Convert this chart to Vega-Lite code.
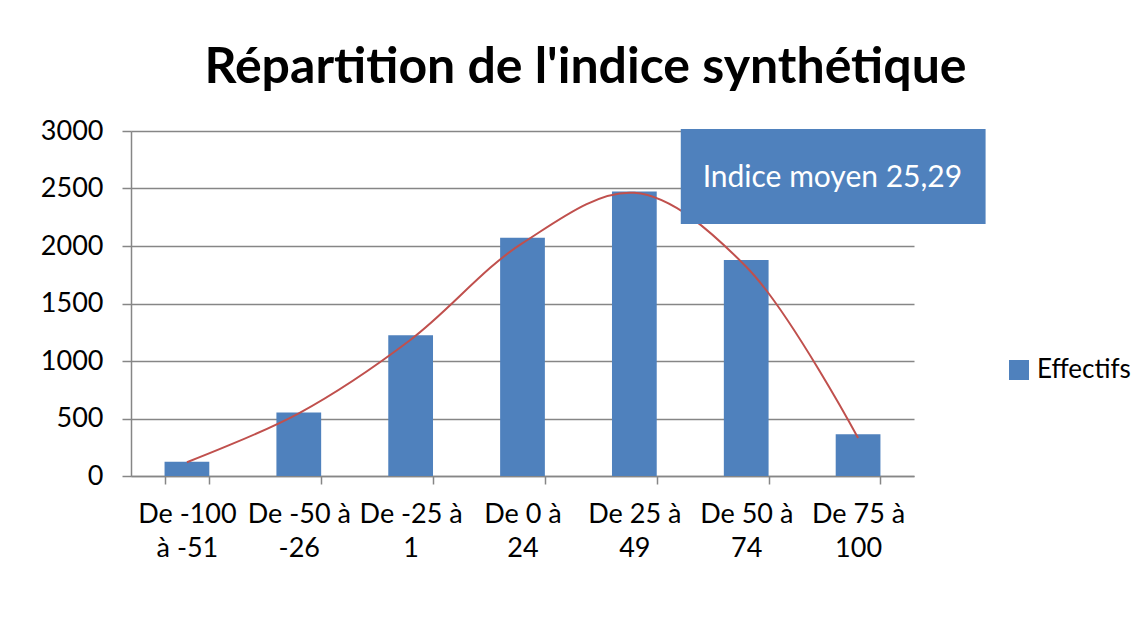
{
  "$schema": "https://vega.github.io/schema/vega-lite/v6.json",
  "autosize": "none",
  "width": 783,
  "height": 345,
  "padding": {"left": 131, "top": 131, "right": 228, "bottom": 158},
  "background": "white",
  "title": {
    "text": "Répartition de l'indice synthétique",
    "font": "Lato",
    "fontSize": 50,
    "fontWeight": "bold",
    "color": "black",
    "anchor": "middle",
    "frame": "group",
    "dx": 63,
    "baseline": "alphabetic",
    "offset": -16
  },
  "config": {
    "view": {"stroke": null},
    "axis": {
      "labelFont": "Lato",
      "labelFontSize": 27,
      "labelColor": "black",
      "domainColor": "#868686",
      "domainWidth": 1.5,
      "tickColor": "#868686",
      "tickWidth": 1.5,
      "gridColor": "#868686",
      "gridWidth": 1.5,
      "title": null
    },
    "legend": {
      "labelFont": "Lato",
      "labelFontSize": 26,
      "labelColor": "black"
    }
  },
  "datasets": {
    "bars": [
      {"classe": "De -100 à -51", "effectifs": 125, "courbe": 120},
      {"classe": "De -50 à -26", "effectifs": 552, "courbe": 545},
      {"classe": "De -25 à 1", "effectifs": 1223, "courbe": 1185},
      {"classe": "De 0 à 24", "effectifs": 2072, "courbe": 2025},
      {"classe": "De 25 à 49", "effectifs": 2475, "courbe": 2462},
      {"classe": "De 50 à 74", "effectifs": 1878, "courbe": 1820},
      {"classe": "De 75 à 100", "effectifs": 362, "courbe": 330}
    ],
    "note": [
      {"x1": 4.915, "x2": 7.64, "y1": 2191, "y2": 3017, "xt": 6.27, "yt": 2591, "texte": "Indice moyen 25,29"}
    ]
  },
  "layer": [
    {
      "data": {"name": "bars"},
      "layer": [
        {
          "mark": {"type": "bar"},
          "encoding": {
            "x": {
              "field": "classe",
              "type": "nominal",
              "sort": null,
              "scale": {"paddingInner": 0.6, "paddingOuter": 0.3},
              "axis": {
                "labelAngle": 0,
                "tickBand": "extent",
                "tickSize": 8,
                "labelPadding": 17,
                "labelLineHeight": 34,
                "labelExpr": "datum.label == 'De -100 à -51' ? ['De -100', 'à -51'] : [slice(datum.label, 0, indexof(datum.label, 'à') + 1), slice(datum.label, indexof(datum.label, 'à') + 2)]"
              }
            },
            "y": {
              "field": "effectifs",
              "type": "quantitative",
              "scale": {"domain": [0, 3000], "nice": false},
              "axis": {
                "values": [0, 500, 1000, 1500, 2000, 2500, 3000],
                "format": "d",
                "tickSize": 9,
                "labelPadding": 19,
                "grid": true
              }
            },
            "color": {
              "datum": "Effectifs",
              "type": "nominal",
              "scale": {"range": ["#4F81BD"]},
              "legend": {
                "title": null,
                "orient": "none",
                "legendX": 875,
                "legendY": 226,
                "symbolType": "square",
                "symbolSize": 400,
                "symbolStrokeWidth": 0,
                "symbolOpacity": 1,
                "labelOffset": 5
              }
            }
          }
        },
        {
          "mark": {"type": "line", "interpolate": "catmull-rom", "color": "#C0504D", "strokeWidth": 2},
          "encoding": {
            "x": {"field": "classe", "type": "nominal", "sort": null},
            "y": {"field": "courbe", "type": "quantitative"}
          }
        }
      ]
    },
    {
      "data": {"name": "note"},
      "layer": [
        {
          "mark": {"type": "rect", "color": "#4F81BD", "clip": false},
          "encoding": {
            "x": {"field": "x1", "type": "quantitative", "scale": {"domain": [0, 7], "nice": false, "zero": false}, "axis": null},
            "x2": {"field": "x2"},
            "y": {"field": "y1", "type": "quantitative"},
            "y2": {"field": "y2"}
          }
        },
        {
          "mark": {"type": "text", "color": "white", "font": "Lato", "fontSize": 30, "align": "center", "baseline": "middle"},
          "encoding": {
            "x": {"field": "xt", "type": "quantitative", "scale": {"domain": [0, 7], "nice": false, "zero": false}, "axis": null},
            "y": {"field": "yt", "type": "quantitative"},
            "text": {"field": "texte"}
          }
        }
      ]
    }
  ],
  "resolve": {"scale": {"x": "independent"}}
}
